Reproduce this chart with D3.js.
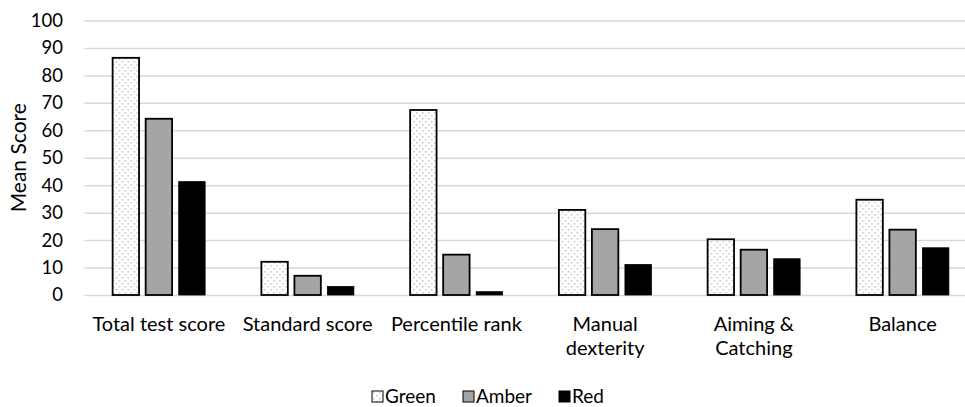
<!DOCTYPE html>
<html>
<head>
<meta charset="utf-8">
<script src="https://cdn.jsdelivr.net/npm/d3@7"></script>
<style>
  body { margin: 0; background: #fff; overflow: hidden; }
  text { font-family: Lato, "Liberation Sans", sans-serif; fill: #000; }
</style>
</head>
<body>
<div id="chart"></div>
<script>
// data
categories = [["Total test score"], ["Standard score"], ["Percentile rank"], ["Manual", "dexterity"], ["Aiming &", "Catching"], ["Balance"]]
series = ["Green", "Amber", "Red"]
green = [86.4, 12.1, 67.4, 31.0, 20.3, 34.7]
amber = [64.2, 7.0, 14.7, 24.0, 16.5, 23.8]
red = [41.3, 3.1, 1.2, 11.1, 13.2, 17.2]
yTicks = [0, 10, 20, 30, 40, 50, 60, 70, 80, 90, 100]

canvas = ({width: 965, height: 407})
// the plot area runs past the right edge of the picture, as in the original
plot = ({left: 84.5, right: 977, top: 20.5, bottom: 295})

fills = {Green: "url(#dots)", Amber: "#a5a5a5", Red: "#000"}

values = [green, amber, red]

x = d3.scaleBand()
    .domain(d3.range(categories.length))
    .range([plot.left, plot.right])

groupW = 92.5
xs = d3.scaleBand()
    .domain(series)
    .range([(x.bandwidth() - groupW) / 2, (x.bandwidth() + groupW) / 2])
    .paddingInner(0.2)

y = d3.scaleLinear()
    .domain([0, 100])
    .range([plot.bottom, plot.top])

var svg = d3.select("#chart").append("svg")
    .attr("width", canvas.width)
    .attr("height", canvas.height)

// dotted pattern for Green
var pat = svg.append("defs").append("pattern")
    .attr("id", "dots")
    .attr("patternUnits", "userSpaceOnUse")
    .attr("width", 6).attr("height", 6)
pat.append("rect").attr("width", 6).attr("height", 6).attr("fill", "#fff")
pat.append("rect").attr("x", 1).attr("y", 1).attr("width", 1.5).attr("height", 1.5).attr("fill", "#c4c4c4")
pat.append("rect").attr("x", 4).attr("y", 4).attr("width", 1.5).attr("height", 1.5).attr("fill", "#c4c4c4")

// gridlines + y labels
svg.append("g")
    .attr("transform", `translate(${plot.left},0)`)
    .call(d3.axisLeft(y).tickValues(yTicks).tickSize(-(plot.right - plot.left)).tickPadding(21.5))
    .call(g => g.select(".domain").remove())
    .call(g => g.selectAll(".tick line").attr("stroke", "#d9d9d9").attr("stroke-width", 1.5))
    .call(g => g.selectAll(".tick text").attr("font-size", 18.5).attr("fill", "#000"))

// bars
var groups = svg.append("g").selectAll("g")
    .data(categories)
    .join("g")
    .attr("transform", (d, i) => `translate(${x(i)},0)`)

series.forEach((s, k) => {
    groups.append("rect")
        .attr("x", xs(s))
        .attr("y", (d, i) => y(values[k][i]))
        .attr("width", xs.bandwidth())
        .attr("height", (d, i) => y(0) - y(values[k][i]))
        .attr("fill", fills[s])
        .attr("stroke", "#000")
        .attr("stroke-width", s == "Red" ? 0.8 : 1.8)
})

// category labels
svg.append("g").selectAll("text")
    .data(categories)
    .join("text")
    .attr("x", (d, i) => x(i) + x.bandwidth() / 2)
    .attr("y", 331)
    .attr("text-anchor", "middle")
    .attr("font-size", 20)
    .selectAll("tspan")
    .data(d => d)
    .join("tspan")
    .attr("x", function() { return this.parentNode.getAttribute("x") })
    .attr("dy", (d, j) => j == 0 ? 0 : 24)
    .text(d => d)

// y axis title
svg.append("text")
    .attr("transform", `translate(26,${(y(0) + y(100)) / 2}) rotate(-90)`)
    .attr("text-anchor", "middle")
    .attr("font-size", 21)
    .text("Mean Score")

// legend
legendX = [372, 463, 559]
var legend = svg.append("g").selectAll("g")
    .data(series)
    .join("g")
    .attr("transform", (d, i) => `translate(${legendX[i]},391)`)
legend.append("rect")
    .attr("width", 11).attr("height", 11)
    .attr("fill", d => fills[d])
    .attr("stroke", "#000").attr("stroke-width", 1)
legend.append("text")
    .attr("x", 13).attr("y", 12)
    .attr("font-size", 19)
    .text(d => d)
</script>
</body>
</html>
